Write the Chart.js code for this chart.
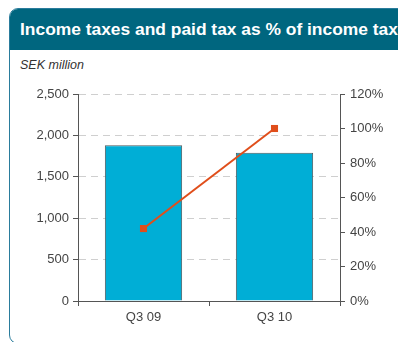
<!DOCTYPE html>
<html>
<head>
<meta charset="utf-8">
<script src="https://cdn.jsdelivr.net/npm/chart.js@4/dist/chart.umd.min.js"></script>
<style>
  html, body { margin: 0; padding: 0; background: #fff; }
  body { width: 398px; height: 342px; overflow: hidden; position: relative; font-family: "Liberation Sans", Arial, sans-serif; }
  .card { position: absolute; left: 9px; top: 8px; width: 420px; height: 336px; border: 1px solid #2a7c9c; border-radius: 9px; overflow: hidden; box-sizing: border-box; }
  .card .head { height: 41px; background: #00667f; color: #fff; font-weight: bold; font-size: 17.4px; line-height: 41px; padding-left: 10px; white-space: nowrap; }
  .unit { position: absolute; left: 20px; top: 58px; font-size: 12.5px; font-style: italic; color: #333; }
  #chart-wrap { position: absolute; left: 0; top: 0; width: 398px; height: 342px; }
</style>
</head>
<body>
<div class="card"><div class="head">Income taxes and paid tax as % of income tax</div></div>
<div class="unit">SEK million</div>
<div id="chart-wrap"><canvas id="tax-chart" width="398" height="342"></canvas></div>
<script>
var quarters = ["Q3 09", "Q3 10"];
var incomeTaxes = [1880, 1790];        // SEK million
var paidTaxPct = [42, 100];            // % of income tax

var AXIS = "#555555";
var TEXT = "#444444";

var tickFont = { family: "'Liberation Sans', Arial, sans-serif", size: 13 };

new Chart(document.getElementById("tax-chart"), {
    data: {
        labels: quarters,
        datasets: [
            {
                type: "line",
                label: "Paid tax",
                data: paidTaxPct,
                yAxisID: "y1",
                borderColor: "#e04e1b",
                backgroundColor: "#e04e1b",
                borderWidth: 2,
                pointStyle: "rect",
                pointRadius: 5,
                pointBorderWidth: 0,
                order: 0
            },
            {
                type: "bar",
                label: "Income taxes",
                data: incomeTaxes,
                yAxisID: "y",
                backgroundColor: "#00aed6",
                borderColor: "#4d5a5e",
                borderWidth: 1,
                categoryPercentage: 1,
                barPercentage: 0.59,
                order: 1
            }
        ]
    },
    options: {
        responsive: false,
        animation: false,
        layout: { padding: { top: 94, left: 0, right: 0, bottom: 0 } },
        plugins: { legend: { display: false }, tooltip: { enabled: false } },
        scales: {
            x: {
                offset: true,
                grid: { offset: true, drawOnChartArea: false, tickLength: 5, tickColor: AXIS },
                border: { color: AXIS, width: 1 },
                ticks: { color: TEXT, font: tickFont, padding: 4 },
                afterFit: function(scale) { scale.height = 41; }
            },
            y: {
                position: "left",
                min: 0,
                max: 2500,
                grid: { color: "#cfcfcf", tickLength: 5, tickColor: AXIS },
                border: { color: AXIS, width: 1, dash: [7, 5] },
                ticks: {
                    stepSize: 500,
                    color: TEXT,
                    font: tickFont,
                    padding: 4,
                    callback: function(v) { return v.toLocaleString("en-US"); }
                },
                afterFit: function(scale) { scale.width = 78; }
            },
            y1: {
                position: "right",
                min: 0,
                max: 120,
                grid: { drawOnChartArea: false, tickLength: 5, tickColor: AXIS },
                border: { color: AXIS, width: 1 },
                ticks: {
                    stepSize: 20,
                    color: TEXT,
                    font: tickFont,
                    padding: 5,
                    callback: function(v) { return v + "%"; }
                },
                afterFit: function(scale) { scale.width = 58; }
            }
        }
    }
});
</script>
</body>
</html>
